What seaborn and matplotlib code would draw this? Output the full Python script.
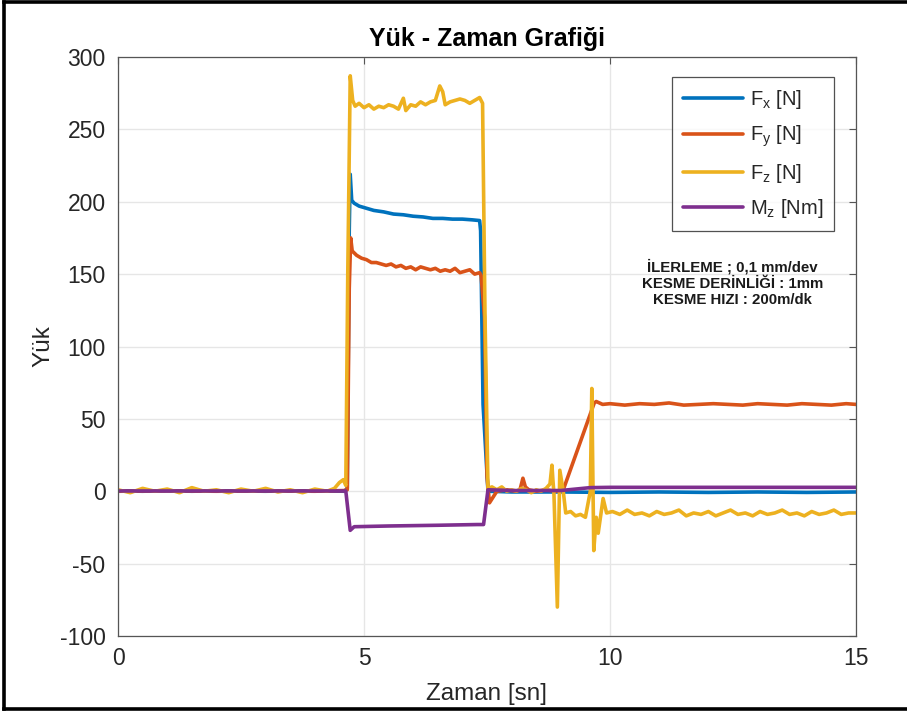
import matplotlib
matplotlib.use("Agg")
import matplotlib.pyplot as plt
from matplotlib.lines import Line2D
import numpy as np
import pandas as pd
import seaborn as sns

# ---- measured signals (time in s, force in N, moment in Nm) ----
t_fx = [0, 0.5, 1, 1.5, 2, 2.5, 3, 3.5, 4, 4.6, 4.66, 4.70, 4.72, 4.75, 4.8, 4.9,
        5.0, 5.2, 5.4, 5.6, 5.8, 6.0, 6.2, 6.4, 6.6, 6.8, 7.0, 7.2, 7.35, 7.37,
        7.42, 7.52, 8.0, 9.0, 10, 11, 12, 13, 14, 15]
fx = [0.3, 0, 0.4, 0, 0.3, 0.2, 0, 0.3, 0.3, 0, 2, 180, 219, 201, 199, 197,
      196, 194, 193, 191.5, 191, 190, 189.5, 188.5, 188.5, 188, 188, 187.5, 187, 180,
      60, 0, -0.5, -0.5, -0.8, -0.5, -0.8, -0.5, -0.8, -0.5]

t_fy = [0, 1, 2, 3, 4, 4.6, 4.66, 4.70, 4.73, 4.76, 4.85, 4.95, 5.05, 5.15,
        5.25, 5.35, 5.45, 5.55, 5.65, 5.75, 5.85, 5.95, 6.05, 6.15, 6.25, 6.35,
        6.45, 6.55, 6.65, 6.75, 6.85, 6.95, 7.05, 7.15, 7.25, 7.35, 7.38, 7.45,
        7.5, 7.55, 7.7, 7.9, 8.1, 8.17, 8.23, 8.28, 8.35, 8.5, 8.7, 8.9, 9.05,
        9.68, 9.72, 9.85, 10.0, 10.3, 10.6, 10.9, 11.2, 11.5, 11.8, 12.1, 12.4,
        12.7, 13.0, 13.3, 13.6, 13.9, 14.2, 14.5, 14.8, 15.0]
fy = [0, 0.3, 0, 0.3, 0, 0.5, 1, 140, 175, 166, 163, 161, 160, 158,
      158, 157, 156, 157, 155, 156, 154, 155, 153, 155, 154, 153,
      154, 152, 153, 152, 154, 151, 152, 153, 150, 151, 149, 120,
      10, -8, 0, 1, 0, 1, 9, 3, 1, 0, 1, 0, 1,
      61, 62, 60, 60.5, 59.5, 60.5, 60, 61, 59.5, 60, 60.5, 60,
      59.5, 60.5, 60, 59.5, 60.5, 60, 59.5, 60.5, 60]

t_fz = [0, 0.25, 0.5, 0.75, 1.0, 1.25, 1.5, 1.75, 2.0, 2.25, 2.5, 2.75, 3.0,
        3.25, 3.5, 3.75, 4.0, 4.25, 4.4, 4.5, 4.58, 4.63, 4.67, 4.72, 4.77,
        4.82, 4.9, 5.0, 5.1, 5.2, 5.3, 5.4, 5.5, 5.6, 5.7, 5.8, 5.85, 5.95,
        6.05, 6.15, 6.25, 6.35, 6.45, 6.54, 6.6, 6.65, 6.75, 6.85, 6.95, 7.05,
        7.15, 7.25, 7.35, 7.41, 7.46, 7.52, 7.6, 7.7, 7.8, 7.9, 8.0, 8.1, 8.2,
        8.3, 8.4, 8.5, 8.6, 8.7, 8.78, 8.82, 8.84, 8.86, 8.93, 8.98, 9.05,
        9.1, 9.2, 9.3, 9.4, 9.5, 9.6, 9.63, 9.67, 9.72, 9.76, 9.86, 9.93,
        10.05, 10.2, 10.35, 10.5, 10.65, 10.8, 10.95, 11.1, 11.25, 11.4,
        11.55, 11.7, 11.85, 12.0, 12.15, 12.3, 12.45, 12.6, 12.75, 12.9,
        13.05, 13.2, 13.35, 13.5, 13.65, 13.8, 13.95, 14.1, 14.25, 14.4,
        14.55, 14.7, 14.85, 15.0]
fz = [1, -1, 2, 0, 1.5, -1, 2.5, 0, 1, -1, 1.5, 0, 2,
      -0.5, 1, -1, 1.5, 0, 2, 6, 8, 4, 150, 287, 270,
      266, 268, 265, 267, 264, 266, 265, 267, 266, 264, 271.5, 263, 267,
      266, 269, 267, 269, 270, 280, 276, 267, 269, 270, 271, 270,
      268, 270, 272, 268, 120, 2, 3, 1, 3, 0, 1, 0, 2,
      1, -1, 1, 0, 2, 5, 18, 7.6, -1, -80, 14.5, 0,
      -15, -14, -17, -16, -18, 0, 71, -41, -18, -29, -5, -15,
      -14, -16, -13, -16, -15, -17, -14, -16, -15, -13,
      -17, -15, -16, -14, -17, -15, -13, -16, -15, -17,
      -14, -16, -15, -13, -16, -15, -17, -14, -16, -15,
      -13, -16, -15, -15]

t_mz = [0, 1, 2, 3, 4, 4.63, 4.68, 4.72, 4.8, 5.5, 6.5, 7.3, 7.43, 7.52,
        8.0, 9.0, 9.3, 9.6, 10, 12, 15]
mz = [0.2, 0.2, 0.2, 0.2, 0.2, 0.2, -15, -27, -24.5, -24, -23.5, -23, -23, 1,
      0.5, 0.5, 1.5, 2.5, 2.7, 2.7, 2.7]

series = [
    (t_fx, fx, r"$\mathregular{F_x}$ [N]", "#0072BD"),
    (t_fy, fy, r"$\mathregular{F_y}$ [N]", "#D95319"),
    (t_fz, fz, r"$\mathregular{F_z}$ [N]", "#EDB120"),
    (t_mz, mz, r"$\mathregular{M_z}$ [Nm]", "#7E2F8E"),
]

x_ticks = [0, 5, 10, 15]
y_ticks = [-100, -50, 0, 50, 100, 150, 200, 250, 300]

sns.set_style("white")
plt.rcParams["font.family"] = ["Liberation Sans", "DejaVu Sans"]
plt.rcParams["mathtext.fontset"] = "custom"
plt.rcParams["mathtext.rm"] = "Liberation Sans"
plt.rcParams["axes.unicode_minus"] = False

fig = plt.figure(figsize=(9.07, 7.13), dpi=100)
ax = fig.add_axes([118 / 907, 1 - 636 / 713, 738 / 907, 579 / 713])

LW = 2.6
handles = []
for t, v, label, color in series:
    df = pd.DataFrame({"t": t, "v": v})
    sns.lineplot(data=df, x="t", y="v", ax=ax, color=color, linewidth=LW,
                 estimator=None, sort=False)
    handles.append(Line2D([0], [0], color=color, linewidth=LW, label=label))

ax.set_xlim(0, 15)
ax.set_ylim(-100, 300)
ax.set_xticks(x_ticks)
ax.set_yticks(y_ticks)
ax.grid(True, color="#e6e6e6", linewidth=1.0)
ax.set_axisbelow(True)
for s in ax.spines.values():
    s.set_visible(True)
    s.set_color("#555555")
    s.set_linewidth(0.9)
ax.tick_params(direction="in", length=5, width=0.8, color="#555555",
               top=True, right=True, labelsize=16.5, labelcolor="#262626")
ax.tick_params(axis="y", pad=9)
ax.tick_params(axis="x", pad=8)

ax.set_xlabel("Zaman [sn]", fontsize=17.5, color="#262626", labelpad=9)
ax.set_ylabel("Yük", fontsize=17.5, color="#262626", labelpad=4)
ax.set_title("Yük - Zaman Grafiği", fontsize=18, fontweight="bold",
             color="black", pad=8)

leg = ax.legend(handles=handles, loc="upper right",
                bbox_to_anchor=(0.970, 0.965), borderaxespad=0,
                fontsize=14.5, handlelength=3.0, labelspacing=0.62,
                frameon=True, fancybox=False, edgecolor="#262626",
                borderpad=0.55, handletextpad=0.3)
leg.get_frame().set_linewidth(0.9)
for txt in leg.get_texts():
    txt.set_color("#262626")

ax.text(0.833, 0.610,
        "İLERLEME ; 0,1 mm/dev\nKESME DERİNLİĞİ : 1mm\nKESME HIZI : 200m/dk",
        transform=ax.transAxes, ha="center", va="center", fontsize=10.8,
        fontweight="bold", color="#1a1a1a", linespacing=1.2)

# black frame around the figure (left, top and bottom edges)
W, H = 907, 713
for (x0, y0, x1, y1) in [(4, 2, 4, 709), (4, 2, 907, 2), (4, 709, 907, 709)]:
    fig.add_artist(Line2D([x0 / W, x1 / W], [1 - y0 / H, 1 - y1 / H],
                          transform=fig.transFigure, color="black",
                          linewidth=2.6, solid_capstyle="projecting"))

fig.savefig("out.png", dpi=100)
